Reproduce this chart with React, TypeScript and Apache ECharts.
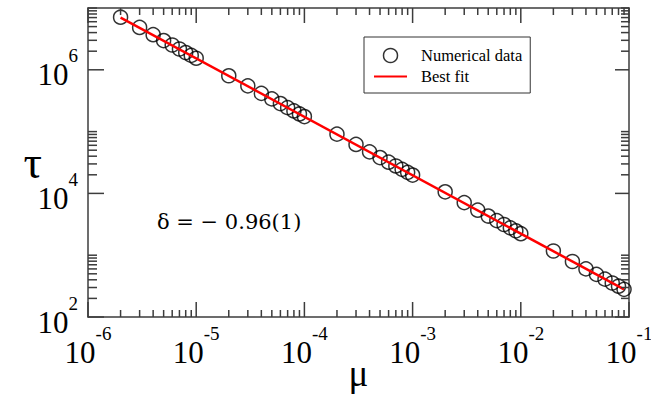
import React, { useEffect, useRef } from 'react';
import * as echarts from 'echarts';

// Numerical data (mu, tau)
const muValues = [
  2e-6, 3e-6, 4e-6, 5e-6, 6e-6, 7e-6, 8e-6, 9e-6, 1e-5,
  2e-5, 3e-5, 4e-5, 5e-5, 6e-5, 7e-5, 8e-5, 9e-5, 1e-4,
  2e-4, 3e-4, 4e-4, 5e-4, 6e-4, 7e-4, 8e-4, 9e-4, 1e-3,
  2e-3, 3e-3, 4e-3, 5e-3, 6e-3, 7e-3, 8e-3, 9e-3, 1e-2,
  2e-2, 3e-2, 4e-2, 5e-2, 6e-2, 7e-2, 8e-2, 9e-2,
];
const tauValues = [
  7.1e6, 4.85e6, 3.7e6, 2.97e6, 2.52e6, 2.17e6, 1.9e6, 1.71e6, 1.54e6,
  8.0e5, 5.5e5, 4.15e5, 3.38e5, 2.84e5, 2.44e5, 2.16e5, 1.93e5, 1.75e5,
  9.1e4, 6.2e4, 4.7e4, 3.8e4, 3.2e4, 2.78e4, 2.45e4, 2.19e4, 1.98e4,
  1.06e4, 7.1e3, 5.35e3, 4.3e3, 3.63e3, 3.14e3, 2.77e3, 2.48e3, 2.23e3,
  1.17e3, 7.9e2, 6.0e2, 4.9e2, 4.1e2, 3.55e2, 3.15e2, 2.8e2,
];

// Best fit line end points
const fitMu = [2e-6, 9e-2];
const fitTau = [7.0e6, 2.8e2];

// Axis ranges and ticks (in data units)
const xRange = [1e-6, 1e-1];
const yRange = [1e2, 1e7];
const xMajorTicks = [1e-6, 1e-5, 1e-4, 1e-3, 1e-2, 1e-1];
const yMajorTicks = [1e2, 1e4, 1e6];
const xMinorTicks = [
  2e-6, 3e-6, 4e-6, 5e-6, 6e-6, 7e-6, 8e-6, 9e-6,
  2e-5, 3e-5, 4e-5, 5e-5, 6e-5, 7e-5, 8e-5, 9e-5,
  2e-4, 3e-4, 4e-4, 5e-4, 6e-4, 7e-4, 8e-4, 9e-4,
  2e-3, 3e-3, 4e-3, 5e-3, 6e-3, 7e-3, 8e-3, 9e-3,
  2e-2, 3e-2, 4e-2, 5e-2, 6e-2, 7e-2, 8e-2, 9e-2,
];
const yMinorTicks = [
  200, 300, 400, 500, 600, 700, 800, 900, 1000,
  2e4, 3e4, 4e4, 5e4, 6e4, 7e4, 8e4, 9e4, 1e5,
  2e6, 3e6, 4e6, 5e6, 6e6, 7e6, 8e6, 9e6, 1e7,
];

const seriesNames = ['Numerical data', 'Best fit'];
const annotation = 'δ = \u2212 0.96(1)';

const FONT = '"Liberation Serif", "Times New Roman", serif';
const AXIS_COLOR = '#3c3c3c';
const lg = (v: number) => Math.log10(v);

const supFormatter = (v: number) => `{b|10}{s|${Math.round(v)}}`;
const richLabels = {
  b: { fontSize: 31, fontFamily: FONT, color: '#000', lineHeight: 44, verticalAlign: 'bottom' },
  s: { fontSize: 19, fontFamily: FONT, color: '#000', lineHeight: 12, verticalAlign: 'top' },
};

export default function App() {
  const ref = useRef<HTMLDivElement>(null);
  useEffect(() => {
    if (!ref.current) return;
    const chart = echarts.init(ref.current, undefined, { renderer: 'svg' });

    const lineStyle = { color: AXIS_COLOR, width: 1.5 };
    const xLo = lg(xRange[0]);
    const xHi = lg(xRange[1]);
    const yLo = lg(yRange[0]);
    const yHi = lg(yRange[1]);
    const baseX = {
      type: 'value', min: xLo, max: xHi, interval: 1,
      splitLine: { show: false }, minorTick: { show: false }, minorSplitLine: { show: false },
      axisTick: { show: false }, nameMoveOverlap: false,
    };
    const baseY = {
      type: 'value', min: yLo, max: yHi, interval: 1,
      splitLine: { show: false }, minorTick: { show: false }, minorSplitLine: { show: false },
      axisTick: { show: false }, nameMoveOverlap: false,
    };
    const xMaj = xMajorTicks.map(lg);
    const yMaj = yMajorTicks.map(lg);

    // all tick marks in one scatter series: thin rect symbols anchored on the frame
    const tick = (x: number, y: number, w: number, h: number, ox: number, oy: number) => ({
      value: [x, y],
      symbolSize: [w, h],
      symbolOffset: [ox, oy],
    });
    const tickData = [
      ...xMajorTicks.map((v) => tick(lg(v), yLo, 1.5, 15, 0, -7.5)),
      ...xMajorTicks.map((v) => tick(lg(v), yHi, 1.5, 15, 0, 7.5)),
      ...xMinorTicks.map((v) => tick(lg(v), yLo, 1.5, 7, 0, -3.5)),
      ...xMinorTicks.map((v) => tick(lg(v), yHi, 1.5, 7, 0, 3.5)),
      ...yMajorTicks.map((v) => tick(xLo, lg(v), 16, 1.5, 8, 0)),
      ...yMajorTicks.map((v) => tick(xHi, lg(v), 14, 1.5, -7, 0)),
      ...yMinorTicks.map((v) => tick(xLo, lg(v), 9, 1.5, 4.5, 0)),
      ...yMinorTicks.map((v) => tick(xHi, lg(v), 8, 1.5, -4, 0)),
    ];

    const option: any = {
      animation: false,
      backgroundColor: '#fff',
      grid: { left: 88, right: 22, top: 8, bottom: 88, containLabel: false, outerBoundsMode: 'none' },
      xAxis: [
        {
          ...baseX,
          position: 'bottom',
          axisLine: { show: true, onZero: false, lineStyle: { ...lineStyle } },
          axisLabel: { show: true, margin: 7, formatter: supFormatter, rich: richLabels, customValues: xMaj, hideOverlap: false },
          name: 'μ',
          nameLocation: 'middle',
          nameGap: 38,
          nameTextStyle: { fontSize: 37, fontFamily: FONT, color: '#000' },
        },
        {
          ...baseX,
          position: 'top',
          axisLine: { show: true, onZero: false, lineStyle: { ...lineStyle } },
          axisLabel: { show: false },
        },
      ],
      yAxis: [
        {
          ...baseY,
          position: 'left',
          axisLine: { show: true, onZero: false, lineStyle: { ...lineStyle } },
          axisLabel: {
            show: true, margin: 10, formatter: supFormatter, rich: richLabels, customValues: yMaj,
            padding: [0, 0, 3, 0], hideOverlap: false,
          },
          name: 'τ',
          nameLocation: 'middle',
          nameRotate: 0,
          nameGap: 46,
          nameTextStyle: { fontSize: 46, fontFamily: FONT, color: '#000', padding: [0, 0, 8, 0] },
        },
        {
          ...baseY,
          position: 'right',
          axisLine: { show: true, onZero: false, lineStyle: { ...lineStyle } },
          axisLabel: { show: false },
        },
      ],
      legend: {
        show: true,
        orient: 'vertical',
        left: 364,
        top: 37,
        padding: [10, 8, 8, 9],
        itemGap: 4,
        itemWidth: 33,
        itemHeight: 14,
        borderColor: '#333',
        borderWidth: 1,
        borderRadius: 0,
        selectedMode: false,
        textStyle: { fontFamily: FONT, fontSize: 16.5, color: '#000', padding: [0, 0, 0, 9] },
        data: [
          { name: seriesNames[0], icon: 'circle', itemStyle: { color: 'rgba(0,0,0,0)', borderColor: '#000', borderWidth: 1.5 } },
          { name: seriesNames[1], itemStyle: { color: 'rgba(0,0,0,0)', borderColor: 'rgba(0,0,0,0)', borderWidth: 0, opacity: 0 } },
        ],
      },
      graphic: [
        {
          type: 'text',
          left: 157,
          top: 211,
          style: { text: annotation, font: `21px "DejaVu Serif", serif`, fill: '#000' },
        },
      ],
      series: [
        {
          name: 'frame ticks',
          type: 'scatter',
          xAxisIndex: 0,
          yAxisIndex: 0,
          silent: true,
          clip: false,
          z: 20,
          zlevel: 0,
          symbol: 'rect',
          itemStyle: { color: AXIS_COLOR, borderWidth: 0, opacity: 1 },
          emphasis: { disabled: true },
          large: false,
          progressive: 0,
          data: tickData,
        },
        {
          name: seriesNames[0],
          type: 'scatter',
          xAxisIndex: 0,
          yAxisIndex: 0,
          symbol: 'circle',
          symbolSize: 14,
          z: 2,
          itemStyle: { color: 'rgba(0,0,0,0)', borderColor: '#000', borderWidth: 1.5 },
          data: muValues.map((m, i) => [lg(m), lg(tauValues[i])]),
        },
        {
          name: seriesNames[1],
          type: 'line',
          xAxisIndex: 0,
          yAxisIndex: 0,
          symbol: 'none',
          showSymbol: false,
          z: 3,
          lineStyle: { color: '#ff0000', width: 2.5 },
          itemStyle: { color: '#ff0000' },
          data: fitMu.map((m, i) => [lg(m), lg(fitTau[i])]),
        },
      ],
    };
    chart.setOption(option);
    return () => chart.dispose();
  }, []);
  return <div ref={ref} style={{ width: 651, height: 405, position: 'absolute', left: 0, top: 0 }} />;
}
